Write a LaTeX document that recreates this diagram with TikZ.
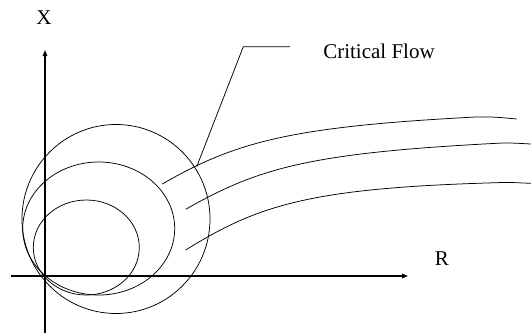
\documentclass[tikz,border=0pt]{standalone}
\usepackage{fontspec}
\setmainfont{Liberation Serif}
\usetikzlibrary{arrows.meta}
\tikzset{
  axis/.style={line width=1.3pt,-{Triangle[length=6pt,width=4.5pt]}},
  thin curve/.style={line width=0.75pt},
  lbl/.style={font=\fontsize{21}{25}\selectfont,inner sep=0pt}
}

\begin{document}
\begin{tikzpicture}[x=1pt,y=-1pt]
\useasboundingbox (0,0) rectangle (531,335);
% axes
\coordinate (xlo) at (45,333);
\coordinate (xhi) at (45,50);
\coordinate (rlo) at (11,276);
\coordinate (rhi) at (408,276);
\draw[axis] (xlo) -- (xhi);
\draw[axis] (rlo) -- (rhi);
\node[lbl] (X) at (44,18) {X};
\node[lbl] (R) at (442,259) {R};
% closed curves
\draw[thin curve] (116,219) ellipse (94 and 94.5);
\draw[thin curve] (98.7,228.5) ellipse (76 and 66.5);
\draw[thin curve] (86.3,247.5) ellipse (53 and 47.5);
% flow lines
\draw[thin curve] (162.3,184) .. controls (235,142) and (290,127) .. (470,117.3)
  .. controls (490,116) and (505,118) .. (516.7,119);
\draw[thin curve] (185.7,209.3) .. controls (258,168) and (310,153) .. (496.7,143.3)
  .. controls (510,142.5) and (520,143.5) .. (531,144);
\draw[thin curve] (185.7,250) .. controls (258,205) and (310,188) .. (496.7,182.7)
  .. controls (510,182) and (520,183) .. (531,183.3);
% label with leader
\node[lbl] (crit) at (379,51) {Critical Flow};
\coordinate (lead1) at (290,46.7);
\coordinate (lead2) at (243.3,46.7);
\coordinate (lead3) at (196.7,166.7);
\draw[thin curve] (lead1) -- (lead2) -- (lead3);
\end{tikzpicture}
\end{document}
